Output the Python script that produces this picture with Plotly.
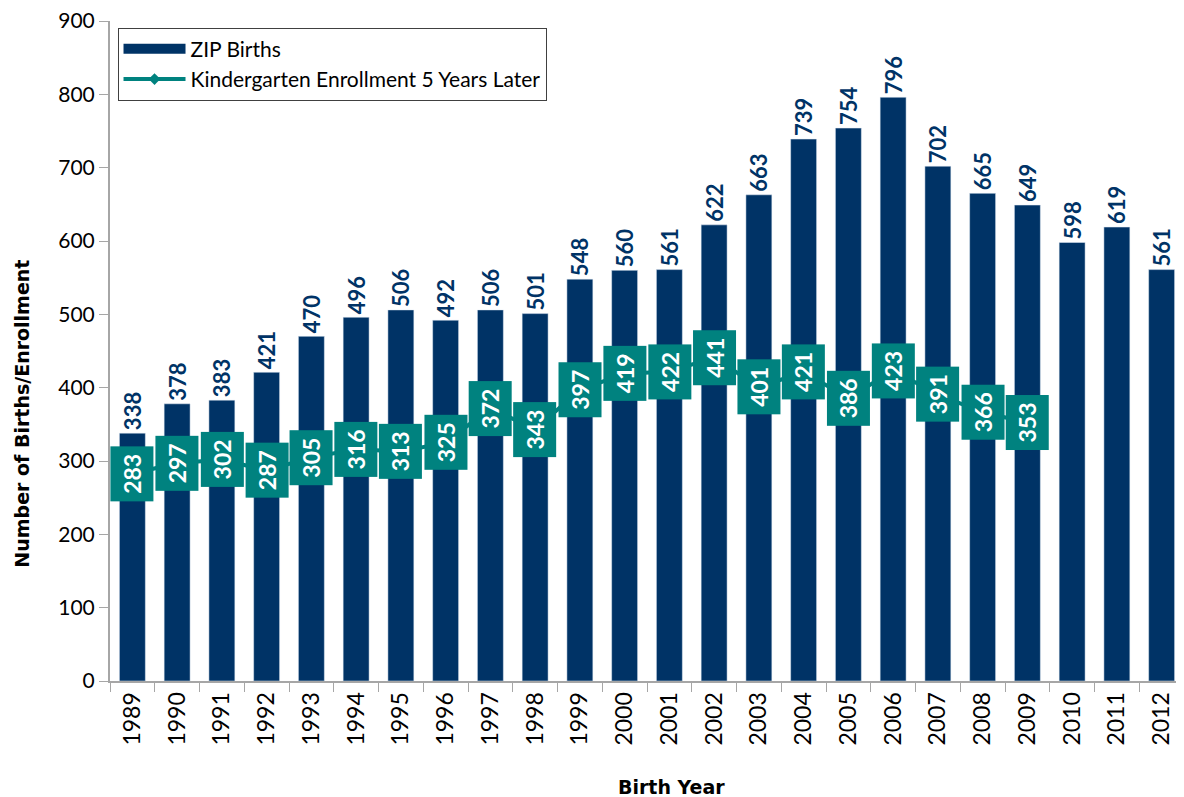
import plotly.graph_objects as go

years = [str(y) for y in range(1989, 2013)]
births = [338, 378, 383, 421, 470, 496, 506, 492, 506, 501, 548, 560,
          561, 622, 663, 739, 754, 796, 702, 665, 649, 598, 619, 561]
k_years = [str(y) for y in range(1989, 2010)]
kinder = [283, 297, 302, 287, 305, 316, 313, 325, 372, 343, 397,
          419, 422, 441, 401, 421, 386, 423, 391, 366, 353]

navy = "#003366"
teal = "#00827f"
font = "Lato"
title_font = "DejaVu Sans"

fig = go.Figure()
fig.add_trace(go.Bar(x=years, y=births, name="ZIP Births",
                     marker_color=navy, showlegend=False,
                     text=births, textposition="outside", textangle=-90,
                     constraintext="none", cliponaxis=False,
                     textfont=dict(family=font, size=22, color=navy, weight="bold")))
# legend swatch drawn as a thick line, like the original wide bar key
fig.add_trace(go.Scatter(x=[None], y=[None], mode="lines", name="ZIP Births",
                         line=dict(color=navy, width=13)))
fig.add_trace(go.Scatter(x=k_years, y=kinder, mode="lines+markers",
                         name="Kindergarten Enrollment 5 Years Later",
                         line=dict(color=teal, width=4),
                         marker=dict(symbol="diamond", size=9, color=teal)))

# annotation x given as category index
for i, y in enumerate(kinder):
    fig.add_annotation(x=i, y=y, text="<b>%d</b>" % y, showarrow=False,
                       textangle=-90, bgcolor=teal, borderpad=7,
                       font=dict(family=font, size=23, color="white"))

fig.add_annotation(xref="paper", yref="paper", x=0, y=0.405, xshift=-88,
                   xanchor="center", yanchor="middle",
                   text="<b>Number of Births/Enrollment</b>", textangle=-90,
                   showarrow=False, font=dict(family=title_font, size=19))
fig.add_annotation(xref="paper", yref="paper", x=0.5, y=0, xshift=24,
                   yshift=-106, xanchor="center", yanchor="middle",
                   text="<b>Birth Year</b>", showarrow=False,
                   font=dict(family=title_font, size=19))

# page body adds an 8px offset, so the figure is sized down to match
fig.update_layout(
    width=1176, height=789,
    margin=dict(l=102, r=0, t=13, b=116, autoexpand=False),
    plot_bgcolor="white", paper_bgcolor="white",
    font=dict(family=font, size=23, color="black"),
    legend=dict(x=0.007, y=0.99, xanchor="left", yanchor="top",
                bordercolor="#404040", borderwidth=1, bgcolor="white",
                font=dict(size=21), itemwidth=62, tracegroupgap=0),
    bargap=0.42,
)
fig.update_xaxes(type="category", range=[-0.5, len(years) - 0.5],
                 showgrid=False, showline=True, automargin=False,
                 linecolor="#a6a6a6", linewidth=2, ticks="outside",
                 tickson="boundaries", ticklen=9, tickcolor="#a6a6a6",
                 tickangle=-90, tickfont=dict(size=23))
fig.update_yaxes(range=[0, 900], dtick=100, showgrid=False, showline=True,
                 automargin=False, ticklabeloverflow="allow",
                 linecolor="#a6a6a6", linewidth=2, ticks="outside",
                 ticklen=9, tickcolor="#a6a6a6", tickfont=dict(size=21),
                 zeroline=False)

fig.write_html("out.html")
